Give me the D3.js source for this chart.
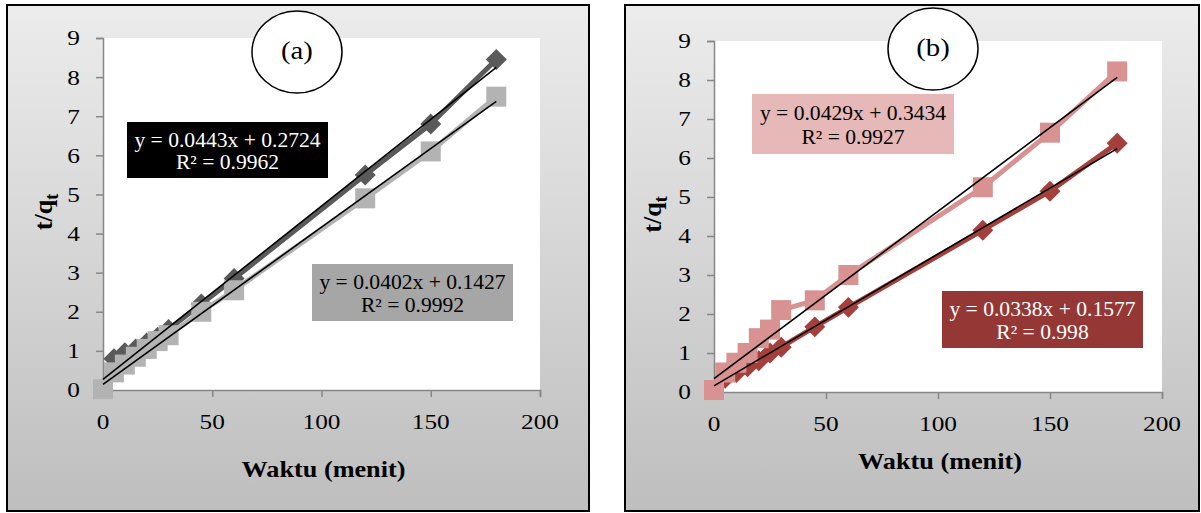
<!DOCTYPE html>
<html>
<head>
<meta charset="utf-8">
<script src="https://cdn.jsdelivr.net/npm/d3@7"></script>
<style>
  body { margin: 0; background: #fff; }
  svg { display: block; }
</style>
</head>
<body>
<svg id="chart" width="1201" height="513"></svg>
<script>
// ---- data ----
var xTicks = [0, 50, 100, 150, 200];
var yTicks = [0, 1, 2, 3, 4, 5, 6, 7, 8, 9];

// panel (a)
var timeA1 = [5, 10, 15, 20, 25, 30, 45, 60, 120, 150, 180];
var valA1 = [0.8, 0.95, 1.05, 1.2, 1.35, 1.55, 2.2, 2.85, 5.5, 6.8, 8.45];
var timeA2 = [0, 5, 10, 15, 20, 25, 30, 45, 60, 120, 150, 180];
var valA2 = [0.02, 0.45, 0.65, 0.85, 1.05, 1.25, 1.4, 2.0, 2.55, 4.9, 6.1, 7.5];
var fitA = [[0.0443, 0.2724], [0.0402, 0.1427]];
var eqA = [["y = 0.0443x + 0.2724", "R² = 0.9962"], ["y = 0.0402x + 0.1427", "R² = 0.9992"]];

// panel (b)
var timeB1 = [5, 10, 15, 20, 25, 30, 45, 60, 120, 150, 180];
var valB1 = [0.35, 0.5, 0.65, 0.8, 1.0, 1.15, 1.67, 2.17, 4.15, 5.15, 6.38];
var timeB2 = [0, 5, 10, 15, 20, 25, 30, 45, 60, 120, 150, 180];
var valB2 = [0.05, 0.5, 0.75, 1.0, 1.38, 1.6, 2.1, 2.35, 3.0, 5.25, 6.65, 8.22];
var fitB = [[0.0338, 0.1577], [0.0429, 0.3434]];
var eqB = [["y = 0.0338x + 0.1577", "R² = 0.998"], ["y = 0.0429x + 0.3434", "R² = 0.9927"]];

var svg = d3.select('#chart');
var serif = '"Liberation Serif", "Times New Roman", serif';

// background gradient of the chart frames
var grad = svg.append('defs').append('linearGradient')
	.attr('id', 'bg').attr('x1', 0).attr('y1', 0).attr('x2', 0).attr('y2', 1);
grad.append('stop').attr('offset', '0%').attr('stop-color', '#ececec');
grad.append('stop').attr('offset', '100%').attr('stop-color', '#bebebe');

// stretched text helper (the original is a bit wide)
function txt(g, x, y, s, size, opt) {
	opt = opt || {};
	var t = g.append('text')
		.attr('transform', 'translate(' + x + ',' + y + ') scale(' + (opt.sx || 1.15) + ',1)')
		.attr('font-family', serif)
		.attr('font-size', size)
		.attr('font-weight', opt.bold ? 'bold' : 'normal')
		.attr('fill', opt.fill || '#000')
		.attr('text-anchor', opt.anchor || 'middle')
		.attr('dominant-baseline', 'central')
		.text(s);
	return t;
}

function drawPanel(p) {
	var g = svg.append('g');
	g.append('rect')
		.attr('x', p.frame[0]).attr('y', p.frame[1])
		.attr('width', p.frame[2]).attr('height', p.frame[3])
		.attr('fill', 'url(#bg)').attr('stroke', '#000').attr('stroke-width', 2);

	var x = d3.scaleLinear().domain([0, 200]).range([p.plot[0], p.plot[1]]);
	var y = d3.scaleLinear().domain([0, 9]).range([p.plot[3], p.plot[2]]);

	g.append('rect')
		.attr('x', p.plot[0]).attr('y', p.plot[2])
		.attr('width', p.plot[1] - p.plot[0]).attr('height', p.plot[3] - p.plot[2])
		.attr('fill', '#fff');

	// axes
	var xa = g.append('g').attr('transform', 'translate(0,' + p.plot[3] + ')')
		.call(d3.axisBottom(x).tickValues(xTicks).tickSize(7).tickFormat(''));
	var ya = g.append('g').attr('transform', 'translate(' + p.plot[0] + ',0)')
		.call(d3.axisLeft(y).tickValues(yTicks).tickSize(7).tickFormat(''));
	[xa, ya].forEach(function(a) {
		a.select('.domain').attr('stroke', '#878787').attr('stroke-width', 1.5);
		a.selectAll('.tick line').attr('stroke', '#878787').attr('stroke-width', 1.5);
	});
	xTicks.forEach(function(v) {
		txt(g, x(v), p.plot[3] + 32, v, 22);
	});
	yTicks.forEach(function(v) {
		txt(g, p.plot[0] - 23, y(v), v, 22, {anchor: 'end'});
	});

	// axis titles
	txt(g, (p.plot[0] + p.plot[1]) / 2 + 2, p.xTitleY, 'Waktu (menit)', 23, {bold: true, sx: 1.14});
	var yt = g.append('text')
		.attr('transform', 'translate(' + p.yTitleX + ',' + ((p.plot[2] + p.plot[3]) / 2 - 2) + ') rotate(-90)')
		.attr('font-family', serif).attr('font-size', 26).attr('font-weight', 'bold')
		.attr('text-anchor', 'middle');
	yt.append('tspan').text('t/q');
	yt.append('tspan').attr('font-size', 18).attr('dy', 6).text('t');

	var line = d3.line().x(function(d) { return x(d[0]); }).y(function(d) { return y(d[1]); });

	// series
	p.series.forEach(function(s) {
		var pts = s.t.map(function(t, i) { return [t, s.v[i]]; });
		g.append('path').attr('d', line(pts))
			.attr('fill', 'none').attr('stroke', s.color).attr('stroke-width', 5)
			.attr('stroke-linejoin', 'round');
		var sym = d3.symbol().type(d3.symbolSquare).size(s.shape == 'diamond' ? 220 : 400);
		g.selectAll(null).data(pts).enter().append('path')
			.attr('d', sym)
			.attr('transform', function(d) {
				return 'translate(' + x(d[0]) + ',' + y(d[1]) + ')' + (s.shape == 'diamond' ? ' rotate(45)' : '');
			})
			.attr('fill', s.color);
	});

	// linear trendlines
	p.fits.forEach(function(f) {
		g.append('path').attr('d', line([[0, f[1]], [180, f[0] * 180 + f[1]]]))
			.attr('stroke', '#000').attr('stroke-width', 1.6).attr('fill', 'none');
	});

	// equation boxes
	p.boxes.forEach(function(b, i) {
		g.append('rect').attr('x', b.r[0]).attr('y', b.r[1]).attr('width', b.r[2]).attr('height', b.r[3])
			.attr('fill', b.fill);
		var cx = b.r[0] + b.r[2] / 2;
		txt(g, cx, b.r[1] + b.r[3] * 0.32, p.eq[i][0], 20, {fill: b.text, sx: 1.08});
		txt(g, cx, b.r[1] + b.r[3] * 0.72, p.eq[i][1], 20, {fill: b.text, sx: 1.08});
	});

	// label ellipse
	g.append('ellipse').attr('cx', p.label[0]).attr('cy', p.label[1]).attr('rx', 45).attr('ry', 41)
		.attr('fill', '#fff').attr('stroke', '#000').attr('stroke-width', 1.5);
	txt(g, p.label[0], p.label[1] - 1, p.label[2], 25, {sx: 1.15});
}

drawPanel({
	frame: [7, 5, 582, 506],
	plot: [103, 540, 38, 390],
	xTitleY: 469, yTitleX: 52,
	series: [
		{t: timeA1, v: valA1, color: '#5a5a5a', shape: 'diamond'},
		{t: timeA2, v: valA2, color: '#b3b3b3', shape: 'square'}
	],
	fits: fitA,
	eq: eqA,
	boxes: [
		{r: [127, 122, 201, 56], fill: '#000', text: '#fff'},
		{r: [312, 264, 201, 57], fill: '#a6a6a6', text: '#000'}
	],
	label: [297, 52, '(a)']
});

drawPanel({
	frame: [625, 5, 574, 506],
	plot: [714, 1162, 41, 392],
	xTitleY: 461, yTitleX: 661,
	series: [
		{t: timeB1, v: valB1, color: '#a3403c', shape: 'diamond'},
		{t: timeB2, v: valB2, color: '#d79291', shape: 'square'}
	],
	fits: fitB,
	eq: eqB,
	boxes: [
		{r: [942, 291, 201, 57], fill: '#953735', text: '#fff'},
		{r: [752, 94, 202, 60], fill: '#e6b9b8', text: '#000'}
	],
	label: [933, 49, '(b)']
});
</script>
</body>
</html>
